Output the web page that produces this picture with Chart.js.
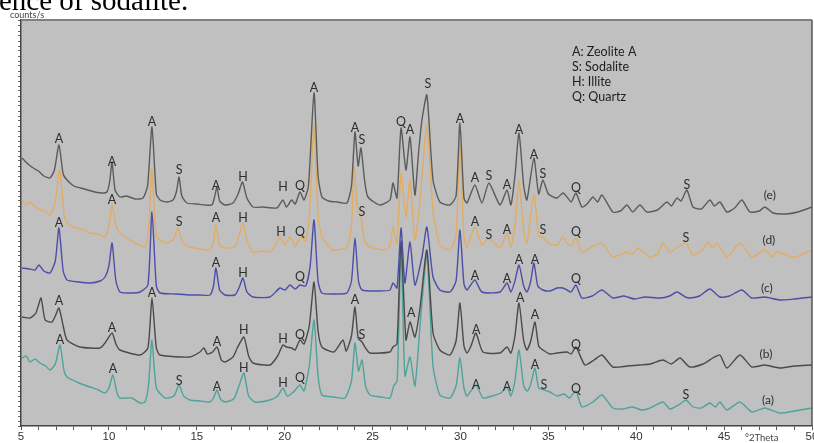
<!DOCTYPE html>
<html>
<head>
<meta charset="utf-8">
<script src="https://cdn.jsdelivr.net/npm/chart.js@4.4.0/dist/chart.umd.min.js"></script>
<style>
  body { margin: 0; background: #fff; }
  #wrap { position: relative; width: 814px; height: 443px; }
</style>
</head>
<body>
<div id="wrap"><canvas id="xrdChart" width="814" height="443"></canvas></div>
<script>
// XRD patterns, [2theta, counts]
const traceE = [
  [5.06, 268], [5.4, 262], [5.7, 258], [6.0, 255], [6.3, 250], [6.65, 248], [6.9, 256], [7.16, 281], [7.4, 252],
  [7.62, 246], [8.0, 240], [8.4, 238], [8.8, 236], [9.2, 234], [9.6, 233], [9.89, 234], [10.05, 245], [10.18, 264],
  [10.35, 236], [10.63, 229], [11.0, 230], [11.5, 227], [11.94, 228], [12.2, 240], [12.45, 299], [12.7, 232],
  [12.91, 226], [13.3, 224], [13.65, 226], [13.85, 235], [13.99, 249], [14.15, 230], [14.44, 223], [15.0, 222],
  [15.5, 221], [15.86, 221], [16.0, 228], [16.15, 239], [16.3, 225], [16.6, 221], [17.06, 223], [17.35, 232],
  [17.6, 244], [17.85, 228], [18.2, 219], [18.8, 219], [19.56, 218], [19.9, 226], [20.1, 219], [20.4, 226],
  [20.6, 222], [20.87, 234], [21.1, 226], [21.35, 240], [21.67, 333], [21.9, 250], [22.12, 229], [22.5, 225],
  [23.0, 224], [23.54, 223], [23.8, 240], [24.0, 294], [24.18, 260], [24.34, 278], [24.55, 245], [24.74, 229],
  [25.42, 221], [25.99, 226], [26.16, 243], [26.39, 228], [26.62, 298], [26.9, 256], [27.13, 289], [27.41, 231],
  [27.6, 270], [27.81, 306], [28.09, 331], [28.44, 246], [28.83, 224], [29.4, 221], [29.75, 230], [29.97, 303],
  [30.2, 228], [30.37, 223], [30.82, 241], [31.22, 223], [31.62, 243], [32.25, 221], [32.65, 236], [32.87, 221],
  [33.1, 250], [33.33, 293], [33.6, 240], [33.78, 226], [34.18, 268], [34.45, 232], [34.69, 246], [35.0, 232],
  [35.49, 228], [35.83, 233], [36.06, 229], [36.3, 224], [36.57, 233], [36.91, 219], [37.2, 222], [37.54, 229],
  [37.8, 224], [38.05, 231], [38.67, 214], [39.1, 215], [39.47, 221], [39.8, 214], [40.21, 221], [40.6, 214],
  [41.2, 216], [41.75, 224], [42.0, 220], [42.32, 228], [42.55, 225], [42.88, 236], [43.23, 219], [43.7, 217],
  [44.19, 226], [44.45, 220], [44.76, 224], [45.16, 214], [45.6, 218], [46.01, 226], [46.47, 214], [47.0, 215],
  [47.32, 219], [47.78, 213], [48.5, 212], [49.2, 214], [50.0, 219]
];

const traceD = [
  [5.06, 226], [5.3, 221], [5.51, 224], [5.8, 219], [6.1, 216], [6.4, 214], [6.65, 211], [6.95, 225], [7.2, 256],
  [7.45, 212], [7.62, 203], [8.0, 199], [8.4, 197], [8.9, 193], [9.4, 192], [9.78, 189], [10.0, 200], [10.18, 221],
  [10.4, 200], [10.63, 193], [11.0, 188], [11.5, 183], [12.05, 179], [12.25, 195], [12.45, 258], [12.7, 190],
  [13.19, 183], [13.65, 186], [13.93, 198], [14.2, 183], [14.61, 179], [15.2, 177], [15.75, 176], [15.95, 185],
  [16.09, 201], [16.3, 181], [16.6, 178], [17.17, 179], [17.4, 190], [17.63, 203], [17.85, 185], [18.2, 174],
  [18.8, 175], [19.16, 174], [19.45, 180], [19.73, 189], [20.0, 181], [20.3, 189], [20.6, 180], [20.93, 189],
  [21.2, 185], [21.4, 210], [21.67, 303], [21.9, 210], [22.12, 189], [22.75, 176], [23.54, 179], [23.8, 200],
  [23.94, 259], [24.15, 215], [24.34, 209], [24.55, 185], [24.85, 179], [25.71, 176], [25.99, 180], [26.16, 199],
  [26.39, 183], [26.62, 253], [26.9, 209], [27.13, 246], [27.41, 186], [27.7, 225], [28.09, 301], [28.44, 216],
  [28.83, 181], [29.4, 176], [29.75, 190], [29.97, 283], [30.2, 190], [30.37, 179], [30.82, 199], [31.22, 181],
  [31.62, 188], [32.25, 178], [32.65, 193], [32.87, 179], [33.1, 200], [33.33, 246], [33.6, 195], [33.78, 183],
  [34.18, 231], [34.45, 190], [34.69, 189], [35.0, 183], [35.49, 181], [35.83, 189], [36.06, 183], [36.3, 180],
  [36.57, 188], [36.91, 174], [37.54, 180], [38.05, 183], [38.67, 169], [39.47, 174], [39.8, 172], [40.09, 178],
  [40.78, 169], [41.2, 172], [41.52, 183], [41.92, 174], [42.37, 179], [42.83, 183], [43.23, 171], [43.7, 175],
  [44.08, 184], [44.35, 178], [44.59, 183], [45.16, 169], [45.9, 183], [46.58, 169], [47.32, 176], [47.78, 169],
  [48.0, 174], [49.03, 169], [50.0, 176]
];

const traceC = [
  [5.06, 158], [5.5, 157], [5.8, 156], [6.02, 161], [6.3, 155], [6.65, 153], [6.95, 165], [7.16, 198], [7.4, 155],
  [7.62, 146], [8.3, 144], [8.92, 143], [9.5, 145], [9.78, 149], [10.0, 160], [10.18, 183], [10.4, 145],
  [10.63, 134], [11.2, 133], [11.77, 134], [12.22, 141], [12.45, 214], [12.7, 140], [12.91, 133], [13.8, 132],
  [14.6, 131], [15.18, 131], [15.75, 131], [15.95, 140], [16.09, 158], [16.3, 136], [16.6, 131], [17.17, 131],
  [17.4, 138], [17.63, 148], [17.85, 134], [18.2, 129], [19.16, 129], [19.73, 138], [20.02, 136], [20.3, 141],
  [20.6, 137], [20.87, 141], [21.2, 140], [21.45, 160], [21.67, 206], [21.9, 145], [22.12, 133], [23.0, 132],
  [23.54, 133], [23.8, 145], [24.0, 188], [24.2, 145], [24.4, 136], [25.4, 135], [25.99, 136], [26.16, 143],
  [26.39, 138], [26.62, 198], [26.84, 143], [27.13, 184], [27.41, 141], [27.81, 169], [28.09, 199], [28.44, 149],
  [28.83, 136], [29.4, 134], [29.75, 145], [29.97, 196], [30.2, 142], [30.37, 136], [30.82, 146], [31.22, 134],
  [32.25, 134], [32.65, 143], [32.87, 134], [33.1, 145], [33.33, 161], [33.6, 140], [33.78, 134], [34.0, 145],
  [34.18, 163], [34.4, 140], [34.69, 136], [35.1, 135], [35.49, 138], [35.83, 138], [36.06, 136], [36.3, 134],
  [36.57, 141], [36.91, 128], [37.5, 130], [38.05, 136], [38.67, 128], [39.3, 130], [39.9, 127], [40.5, 129],
  [41.35, 128], [41.9, 130], [42.32, 134], [42.8, 129], [43.05, 128], [43.6, 130], [44.19, 137], [44.76, 129],
  [45.3, 130], [46.01, 136], [46.58, 128], [47.32, 129], [48.17, 126], [49.0, 127], [50.0, 129]
];

const traceB = [
  [5.06, 109], [5.51, 108], [5.85, 113], [6.14, 128], [6.37, 106], [6.76, 104], [6.95, 110], [7.16, 118], [7.4, 100],
  [7.62, 86], [8.36, 79], [9.49, 78], [9.78, 83], [10.18, 93], [10.4, 82], [10.63, 76], [11.77, 71], [12.22, 78],
  [12.45, 128], [12.7, 78], [12.91, 71], [14.6, 69], [15.18, 74], [15.41, 78], [15.6, 72], [15.9, 74], [16.15, 79],
  [16.4, 66], [16.6, 64], [17.06, 69], [17.3, 78], [17.68, 89], [17.95, 70], [18.2, 63], [19.16, 61], [19.6, 70],
  [19.9, 81], [20.1, 79], [20.4, 78], [20.6, 76], [20.87, 86], [21.1, 82], [21.4, 100], [21.67, 144], [21.9, 95],
  [22.12, 79], [22.8, 74], [23.32, 86], [23.5, 75], [23.8, 90], [24.0, 119], [24.18, 88], [24.4, 84], [24.6, 78],
  [24.85, 73], [25.99, 74], [26.16, 79], [26.39, 82], [26.62, 185], [26.9, 86], [27.13, 104], [27.41, 89],
  [27.7, 118], [28.09, 176], [28.44, 93], [28.83, 76], [29.4, 71], [29.75, 85], [29.97, 123], [30.2, 80],
  [30.37, 73], [30.6, 80], [30.88, 93], [31.28, 74], [32.25, 73], [32.65, 79], [32.87, 73], [33.1, 90],
  [33.33, 123], [33.6, 85], [33.78, 76], [34.0, 85], [34.24, 104], [34.45, 80], [34.69, 76], [35.1, 72],
  [35.49, 73], [36.06, 74], [36.3, 72], [36.57, 79], [37.08, 61], [37.6, 66], [38.05, 71], [38.67, 59], [39.5, 60],
  [40.21, 61], [40.8, 62], [41.52, 66], [42.0, 62], [42.49, 68], [43.05, 59], [43.8, 62], [44.36, 68], [44.76, 71],
  [45.16, 58], [45.9, 71], [46.58, 59], [47.3, 61], [48.17, 58], [49.0, 60], [50.0, 61]
];

const traceA = [
  [5.06, 68], [5.3, 70], [5.51, 64], [5.8, 67], [6.08, 63], [6.4, 60], [6.65, 56], [6.95, 62], [7.22, 81], [7.45, 55],
  [7.62, 49], [8.3, 43], [8.92, 39], [9.4, 36], [9.78, 33], [10.0, 38], [10.23, 51], [10.45, 34], [10.63, 28],
  [11.3, 28], [11.77, 23], [12.05, 24], [12.25, 40], [12.45, 86], [12.7, 38], [13.19, 28], [13.7, 30], [13.99, 41],
  [14.25, 30], [14.61, 26], [15.2, 25], [15.75, 24], [15.95, 28], [16.15, 36], [16.35, 27], [16.6, 24], [17.1, 27],
  [17.4, 40], [17.68, 53], [17.95, 30], [18.31, 24], [19.16, 26], [19.6, 30], [19.9, 38], [20.15, 30], [20.5, 34],
  [20.87, 41], [21.1, 35], [21.4, 60], [21.67, 106], [21.9, 50], [22.12, 31], [22.8, 29], [23.43, 28], [23.8, 45],
  [24.0, 83], [24.2, 55], [24.4, 66], [24.6, 40], [24.85, 31], [25.5, 29], [25.99, 28], [26.2, 40], [26.4, 45],
  [26.62, 180], [26.84, 50], [27.13, 69], [27.41, 40], [27.7, 100], [28.09, 171], [28.44, 60], [28.83, 31],
  [29.4, 28], [29.75, 40], [29.97, 68], [30.2, 38], [30.37, 30], [30.88, 41], [31.28, 28], [31.8, 30], [32.3, 33],
  [32.65, 39], [32.87, 30], [33.1, 45], [33.33, 76], [33.6, 40], [33.8, 35], [34.0, 42], [34.24, 58], [34.45, 38],
  [34.75, 36], [35.09, 34], [35.49, 30], [35.9, 32], [36.2, 28], [36.57, 35], [36.91, 19], [37.54, 24], [38.05, 31],
  [38.67, 18], [39.2, 17], [39.8, 19], [40.3, 16], [40.8, 18], [41.52, 24], [41.92, 17], [42.5, 22], [42.83, 26],
  [43.23, 19], [43.7, 18], [44.19, 23], [44.5, 19], [44.76, 24], [45.16, 16], [45.9, 24], [46.58, 14], [47.32, 18],
  [48.17, 13], [49.0, 15], [50.0, 18]
];

// peak labels: [text, 2theta, counts]
const labelsE = [
  ["A", 7.16, 287], ["A", 10.18, 264], ["A", 12.45, 304], ["S", 13.99, 256], ["A", 16.09, 240], ["H", 17.63, 249],
  ["H", 19.9, 239], ["Q", 20.87, 240], ["A", 21.67, 338], ["A", 24.0, 298], ["S", 24.4, 286], ["Q", 26.62, 304],
  ["A", 27.13, 296], ["S", 28.15, 342], ["A", 29.97, 307], ["A", 30.82, 248], ["S", 31.62, 250], ["A", 32.65, 241],
  ["A", 33.33, 296], ["A", 34.18, 271], ["S", 34.69, 252], ["Q", 36.57, 238], ["S", 42.88, 241], ["(e)", 47.6, 231]
];
const labelsD = [
  ["A", 10.18, 226], ["S", 13.99, 204], ["A", 16.09, 208], ["H", 17.63, 208], ["H", 19.79, 194], ["Q", 20.87, 194],
  ["S", 24.4, 214], ["A", 30.82, 204], ["S", 31.62, 191], ["A", 32.65, 196], ["S", 34.69, 196], ["Q", 36.57, 194],
  ["S", 42.83, 188], ["(d)", 47.55, 186]
];
const labelsC = [
  ["A", 7.16, 203], ["A", 16.09, 163], ["H", 17.63, 153], ["Q", 20.87, 149], ["A", 30.82, 150], ["A", 32.65, 147],
  ["A", 33.33, 166], ["A", 34.24, 166], ["Q", 36.57, 147], ["(c)", 47.43, 138]
];
const labelsB = [
  ["A", 7.16, 125], ["A", 10.18, 98], ["A", 12.45, 133], ["A", 16.15, 84], ["H", 17.68, 96], ["H", 19.9, 87],
  ["Q", 20.87, 91], ["A", 24.0, 126], ["S", 24.4, 91], ["A", 27.2, 113], ["A", 30.9, 96], ["A", 33.4, 128],
  ["A", 34.24, 111], ["Q", 36.57, 81], ["(b)", 47.38, 72]
];
const labelsA = [
  ["A", 7.22, 86], ["A", 10.23, 57], ["S", 13.99, 45], ["A", 16.15, 39], ["H", 17.68, 58], ["H", 19.9, 43],
  ["Q", 20.87, 48], ["A", 30.88, 41], ["A", 32.65, 39], ["A", 34.24, 61], ["S", 34.75, 41], ["Q", 36.57, 37],
  ["S", 42.83, 31], ["(a)", 47.5, 26]
];

const phaseKey = ["A: Zeolite A", "S: Sodalite", "H: Illite", "Q: Quartz"];
const xTicks = [5, 10, 15, 20, 25, 30, 35, 40, 45, 50];

const toPoints = (arr) => arr.map((p) => ({ x: p[0], y: p[1] }));

// draws background, peak letters, key and the bits of text round the axes
const decorPlugin = {
  id: "decor",
  beforeDraw(chart) {
    const { ctx, chartArea: a } = chart;
    ctx.save();
    ctx.fillStyle = "#c0c0c0";
    ctx.fillRect(a.left, a.top, a.right - a.left, a.bottom - a.top);
    ctx.restore();
  },
  afterDatasetsDraw(chart) {
    const { ctx, chartArea: a, scales } = chart;
    const x = scales.x, y = scales.y;
    ctx.save();
    ctx.fillStyle = "#2e2e2e";
    ctx.textAlign = "center";
    ctx.textBaseline = "middle";
    [labelsE, labelsD, labelsC, labelsB, labelsA].forEach((set) => {
      set.forEach((l) => {
        ctx.font = l[0].length > 1 ? "12px Lato" : "12.5px Lato";
        ctx.fillText(l[0], x.getPixelForValue(l[1]), y.getPixelForValue(l[2]));
      });
    });
    // phase key
    ctx.textAlign = "left";
    ctx.fillStyle = "#1e1e1e";
    ctx.font = "12.5px Lato";
    phaseKey.forEach((t, i) => ctx.fillText(t, 572, 52 + i * 15));
    // frame top and right
    ctx.strokeStyle = "#808080";
    ctx.lineWidth = 2;
    ctx.beginPath();
    ctx.moveTo(a.left, a.top);
    ctx.lineTo(a.right, a.top);
    ctx.stroke();
    ctx.strokeStyle = "#555";
    ctx.lineWidth = 1.5;
    ctx.beginPath();
    ctx.moveTo(a.right, a.top);
    ctx.lineTo(a.right, a.bottom);
    ctx.stroke();
    ctx.restore();
  },
  afterDraw(chart) {
    const { ctx } = chart;
    ctx.save();
    ctx.fillStyle = "#000";
    ctx.textBaseline = "alphabetic";
    ctx.font = '29px "Liberation Serif"';
    ctx.fillText("ence of sodalite.", -1, 10);
    ctx.fillStyle = "#444";
    ctx.font = "9px Lato";
    ctx.fillText("counts/s", 10, 18);
    ctx.font = "9.5px Lato";
    ctx.fillText("\u00b02Theta", 745, 441);
    ctx.restore();
  }
};

const ctx = document.getElementById("xrdChart").getContext("2d");
const chart = new Chart(ctx, {
  type: "line",
  data: {
    datasets: [
      { label: "(e)", data: toPoints(traceE), borderColor: "#5b5b5b" },
      { label: "(d)", data: toPoints(traceD), borderColor: "#e2ac62" },
      { label: "(c)", data: toPoints(traceC), borderColor: "#4d4daa" },
      { label: "(b)", data: toPoints(traceB), borderColor: "#4a4a4a" },
      { label: "(a)", data: toPoints(traceA), borderColor: "#4ea39a" }
    ].map((d) => Object.assign(d, { borderWidth: 1.4, pointRadius: 0, tension: 0.2, fill: false }))
  },
  options: {
    responsive: false,
    animation: false,
    devicePixelRatio: 1,
    layout: { padding: { left: 0, right: 2, top: 20, bottom: 0 } },
    plugins: { legend: { display: false }, tooltip: { enabled: false } },
    scales: {
      x: {
        type: "linear",
        min: 5,
        max: 50,
        ticks: {
          stepSize: 1,
          autoSkip: false,
          maxRotation: 0,
          padding: 0,
          color: "#333",
          font: { family: "Liberation Sans", size: 11.5 },
          callback: (v) => (xTicks.includes(v) ? String(v) : "")
        },
        grid: { drawOnChartArea: false, drawTicks: true, tickLength: 4, color: "#555" },
        border: { display: true, color: "#444", width: 1.5 },
        afterFit: (scale) => {
          scale.height = 17;
          scale.paddingLeft = 0;
          scale.paddingRight = 0;
        }
      },
      y: {
        min: 0,
        max: 406,
        ticks: { display: false, stepSize: 5 },
        grid: { drawOnChartArea: false, drawTicks: true, tickLength: 3, color: "#666" },
        border: { display: true, color: "#444", width: 1.5 },
        afterFit: (scale) => {
          scale.width = 21;
        }
      }
    }
  },
  plugins: [decorPlugin]
});
</script>
</body>
</html>
